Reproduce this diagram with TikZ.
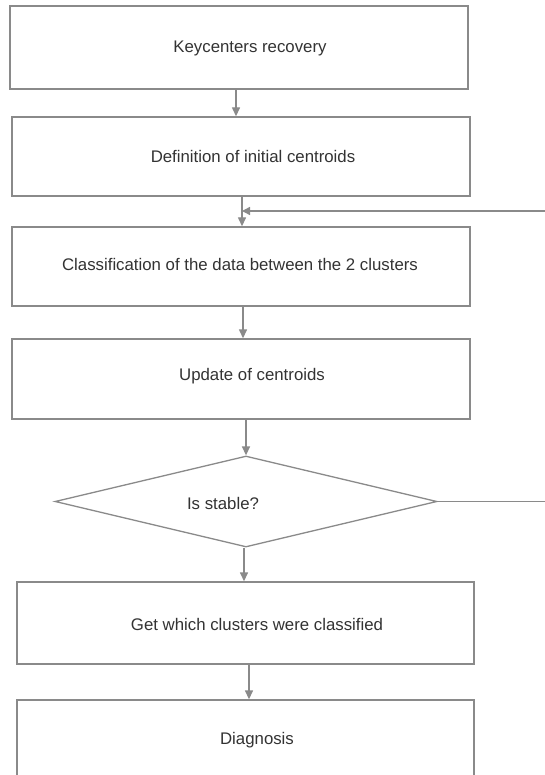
\documentclass[tikz,border=0pt]{standalone}
\usepackage{fontspec}
\setmainfont{Liberation Sans}
\usetikzlibrary{arrows.meta,shapes.geometric}
\definecolor{linegray}{HTML}{8A8A8A}
\definecolor{textgray}{HTML}{333333}
\tikzset{
  box/.style={draw=linegray, line width=1.4pt, fill=white, inner sep=0pt},
  decision/.style={diamond, draw=linegray, line width=1.3pt, fill=white, inner sep=0pt, aspect=4},
  lbl/.style={text=textgray, font=\fontsize{16.8}{20}\selectfont, inner sep=0pt},
  conn/.style={draw=linegray, line width=1.4pt},
  arr/.style={conn, -{Triangle[length=9pt,width=8pt]}},
  larr/.style={conn, -{Triangle[length=8pt,width=8pt]}}
}
\begin{document}
\begin{tikzpicture}[x=1pt,y=-1pt]
\useasboundingbox (0,0) rectangle (545,775);
\fill[white] (0,0) rectangle (545,775);

\node[box, minimum width=458, minimum height=83,
  label={[lbl,xshift=11pt,yshift=-0.5pt]center:Keycenters recovery}] (b1) at (239,47.5) {};
\node[box, minimum width=458, minimum height=79,
  label={[lbl,xshift=12pt,yshift=0.5pt]center:Definition of initial centroids}] (b2) at (241,156.5) {};
\node[box, minimum width=458, minimum height=79,
  label={[lbl,xshift=-1pt,yshift=2.5pt]center:Classification of the data between the 2 clusters}] (b3) at (241,266.5) {};
\node[box, minimum width=458, minimum height=80,
  label={[lbl,xshift=11pt,yshift=3pt]center:Update of centroids}] (b4) at (241,379) {};
\node[decision, minimum width=382, minimum height=91,
  label={[lbl,xshift=-23pt,yshift=-1.5pt]center:Is stable?}] (d) at (246,501.5) {};
\node[box, minimum width=457, minimum height=82,
  label={[lbl,xshift=11.5pt,yshift=-1pt]center:Get which clusters were classified}] (b5) at (245.5,623) {};
\node[box, minimum width=457, minimum height=82,
  label={[lbl,xshift=11.5pt,yshift=1pt]center:Diagnosis}] (b6) at (245.5,741) {};

\coordinate (join) at (242,211);

\draw[arr] ([xshift=-3pt]b1.south) -- ([xshift=-5pt]b2.north);
\draw[conn] ([xshift=1pt]b2.south) -- (join);
\draw[arr] (join) -- ([xshift=1pt]b3.north);
\draw[arr] ([xshift=2pt]b3.south) -- ([xshift=2pt]b4.north);
\draw[arr] ([xshift=5pt]b4.south) -- (d.north);
\draw[arr] ([xshift=-2pt]d.south) -- ([xshift=-1.5pt]b5.north);
\draw[arr] ([xshift=3.5pt]b5.south) -- ([xshift=3.5pt]b6.north);

\draw[larr] (d.east) -- ++(130,0) coordinate (edge) |- (join);
\end{tikzpicture}
\end{document}
